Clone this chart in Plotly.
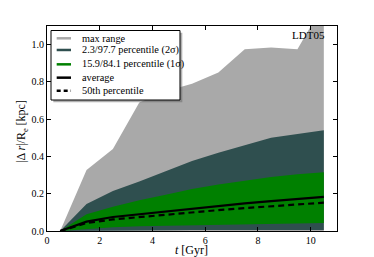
import plotly.graph_objects as go

t = [0.5, 1.5, 2.5, 3.5, 4.5, 5.5, 6.5, 7.5, 8.5, 9.5, 10.5]
max_lo = [0, 0, 0, 0, 0, 0, 0, 0, 0, 0, 0]
max_hi = [0, 0.327, 0.44, 0.69, 0.75, 0.79, 0.85, 0.975, 0.985, 0.975, 1.22]
s2_lo = [0, 0.002, 0.003, 0.004, 0.004, 0.005, 0.005, 0.005, 0.006, 0.006, 0.006]
s2_hi = [0, 0.145, 0.215, 0.265, 0.32, 0.375, 0.42, 0.46, 0.50, 0.52, 0.54]
s1_lo = [0, 0.01, 0.02, 0.025, 0.028, 0.032, 0.035, 0.037, 0.039, 0.041, 0.043]
s1_hi = [0, 0.09, 0.13, 0.165, 0.195, 0.225, 0.25, 0.27, 0.29, 0.305, 0.315]
avg = [0, 0.05, 0.075, 0.09, 0.105, 0.12, 0.135, 0.148, 0.16, 0.172, 0.183]
med = [0, 0.043, 0.062, 0.075, 0.088, 0.10, 0.112, 0.123, 0.133, 0.143, 0.152]

labels = ["max range", "2.3/97.7 percentile (2σ)", "15.9/84.1 percentile (1σ)",
          "average", "50th percentile"]
colors = ["#a9a9a9", "#2f4f4f", "#008000"]

FONT = "Liberation Serif"
fig = go.Figure()
bands = [(max_lo, max_hi, colors[0]), (s2_lo, s2_hi, colors[1]), (s1_lo, s1_hi, colors[2])]
for lo, hi, c in bands:
    fig.add_trace(go.Scatter(x=t, y=lo, mode="lines", line=dict(width=0, color=c),
                             showlegend=False, hoverinfo="skip"))
    fig.add_trace(go.Scatter(x=t, y=hi, mode="lines", line=dict(width=0, color=c),
                             fill="tonexty", fillcolor=c, showlegend=False, hoverinfo="skip"))

fig.add_trace(go.Scatter(x=t, y=avg, mode="lines", line=dict(color="black", width=2.2),
                         name=labels[3], showlegend=False))
fig.add_trace(go.Scatter(x=t, y=med, mode="lines", line=dict(color="black", width=2.2, dash="6px,4px"),
                         name=labels[4], showlegend=False))

# ---- hand-built legend (matplotlib style, compact rows) ----
bx0, bx1, by0, by1 = 0.0138, 0.4586, 0.639, 0.978
fig.add_shape(type="rect", xref="paper", yref="paper", x0=bx0 + 0.008, x1=bx1 + 0.008,
              y0=by0 - 0.011, y1=by1 - 0.011, fillcolor="rgba(100,100,100,0.5)",
              line=dict(width=0), layer="above")
fig.add_shape(type="rect", xref="paper", yref="paper", x0=bx0, x1=bx1, y0=by0, y1=by1,
              fillcolor="white", line=dict(color="black", width=1), layer="above")
rows = [0.940, 0.883, 0.813, 0.748, 0.684]
handle_styles = [
    dict(color=colors[0], width=2.5),
    dict(color=colors[1], width=2.5),
    dict(color=colors[2], width=2.5),
    dict(color="black", width=2.5),
    dict(color="black", width=2.5, dash="4px,3px"),
]
for yy, lab, st in zip(rows, labels, handle_styles):
    fig.add_shape(type="line", xref="paper", yref="paper", x0=0.0334, x1=0.0828,
                  y0=yy, y1=yy, line=st, layer="above")
    fig.add_annotation(text=lab, xref="paper", yref="paper", x=0.1138, y=yy,
                       xanchor="left", yanchor="middle", showarrow=False,
                       font=dict(family=FONT, size=10.3, color="black"))

fig.add_annotation(text="LDT05", xref="paper", yref="paper", x=0.9655, y=0.956,
                   xanchor="right", yanchor="middle", showarrow=False,
                   font=dict(family=FONT, size=11, color="black"))
# axis titles
fig.add_annotation(text="<i>t</i> [Gyr]", xref="paper", yref="paper", x=0.4966, y=-0.094,
                   xanchor="center", yanchor="middle", showarrow=False,
                   font=dict(family=FONT, size=12, color="black"))
fig.add_annotation(text="|Δ <i>r</i>|/R<sub>e</sub> [kpc]", xref="paper", yref="paper",
                   x=-0.0862, y=0.483, textangle=-90, xanchor="center", yanchor="middle",
                   showarrow=False, font=dict(family=FONT, size=12, color="black"))

axis_common = dict(showline=True, linecolor="black", linewidth=1, mirror="ticks",
                   ticks="inside", ticklen=4, tickcolor="black", showgrid=False,
                   zeroline=False, automargin=False,
                   tickfont=dict(family=FONT, size=10, color="black"))

# the page body adds an 8px offset; margins compensate so the plot sits at
# x 47..337, y 26..231 in the 374x257 window
fig.update_layout(
    width=374, height=257,
    margin=dict(l=39, r=45, t=18, b=34),
    paper_bgcolor="white", plot_bgcolor="white",
    font=dict(family=FONT, size=10, color="black"),
    showlegend=False,
    xaxis=dict(range=[0, 11], tickvals=[0, 2, 4, 6, 8, 10], **axis_common),
    yaxis=dict(range=[0, 1.1], tickvals=[0, 0.2, 0.4, 0.6, 0.8, 1.0], tickformat=".1f",
               **axis_common),
)

fig.write_html("out.html")
